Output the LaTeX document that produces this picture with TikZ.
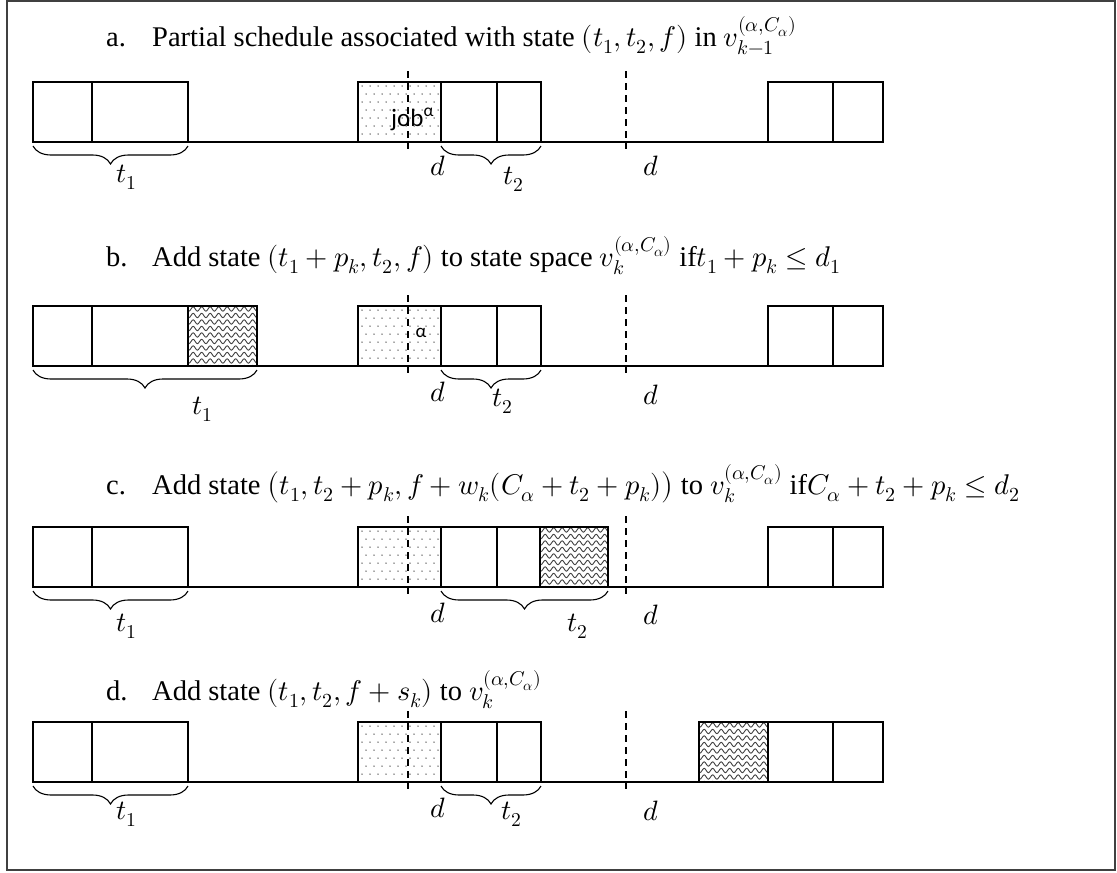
\documentclass[tikz,border=0pt]{standalone}
\usepackage{fontspec}
\usepackage{unicode-math}
\setmainfont{Liberation Serif}
\newfontfamily\boxfont{Carlito}
\usetikzlibrary{decorations.pathreplacing,decorations.pathmorphing}
\tikzset{
  jobbox/.style={draw, line width=1.8pt},
  baseln/.style={line width=1.6pt},
  deadline/.style={line width=1.4pt, dash pattern=on 7pt off 5pt},
  curly/.style={decorate, decoration={brace, mirror, amplitude=18pt, raise=2pt}, line width=1.1pt},
  ttl/.style={anchor=base west, inner sep=0pt, font=\fontsize{28.5}{32}\selectfont},
  mlab/.style={inner sep=0pt, font=\fontsize{28}{32}\selectfont},
  inbox/.style={inner sep=0pt, font=\boxfont\fontsize{25}{28}\selectfont},
  frame/.style={draw=black!75, line width=1.2pt},
}
\newcommand{\mydotpat}[2]{% x0 x1 (local y 0..60)
  \begin{scope}
    \clip (#1,0) rectangle (#2,60);
    \foreach \j in {0,...,7}{
      \pgfmathsetmacro{\off}{mod(\j,2)*4}
      \foreach \i in {0,...,11}{
        \fill[black!70] ({#1+4+\off+8*\i},{4+8*\j}) circle (0.75pt);
      }
    }
  \end{scope}
}
\newcommand{\mywavypat}[2]{%
  \begin{scope}
    \clip (#1,0) rectangle (#2,60);
    \foreach \yy in {3,9.5,...,63}{
      \draw[black!75, line width=0.9pt, decorate, decoration={snake, amplitude=2.2pt, segment length=8.5pt}] ({#1-6},\yy) -- ({#2+6},\yy);
    }
  \end{scope}
}
\begin{document}
\begin{tikzpicture}[x=1pt, y=-1pt]
\useasboundingbox (0,0) rectangle (1117,873);
\draw[frame] (7,1) rectangle (1115,870);

% ---------- row a ----------
\node[ttl] (tla) at (106,46) {a.};
\node[ttl] (tta) at (152,46) {Partial schedule associated with state $(t_1, t_2, f)$ in $v_{k-1}^{(\alpha,C_\alpha)}$};
\begin{scope}[yshift=-82pt]
  \mydotpat{358}{441}
  \draw[baseln] (33,60) -- (883,60);
  \draw[jobbox] (33,0) rectangle (92,60);
  \draw[jobbox] (92,0) rectangle (188,60);
  \draw[jobbox] (358,0) rectangle (441,60);
  \draw[jobbox] (441,0) rectangle (497,60);
  \draw[jobbox] (497,0) rectangle (541,60);
  \draw[jobbox] (768,0) rectangle (833,60);
  \draw[jobbox] (833,0) rectangle (883,60);
  \draw[deadline] (408,-11) -- (408,67);
  \draw[deadline] (626,-11) -- (626,67);
  \node[inbox, anchor=base west] (ja) at (391,44) {job\textsuperscript{α}};
  \coordinate (a1l) at (33,62); \coordinate (a1r) at (188,62);
  \coordinate (a2l) at (441,62); \coordinate (a2r) at (541,62);
  \draw[curly] (a1l) -- (a1r);
  \draw[curly] (a2l) -- (a2r);
  \node[mlab] (at1) at (127,95) {$t_1$};
  \node[mlab] (at2) at (514,97) {$t_2$};
  \node[mlab] (ad1) at (438,84) {$d$};
  \node[mlab] (ad2) at (651,84) {$d$};
\end{scope}

% ---------- row b ----------
\node[ttl] (tlb) at (106,266) {b.};
\node[ttl] (ttb) at (152,266) {Add state $(t_1 + p_k, t_2, f)$ to state space $v_{k}^{(\alpha,C_\alpha)}$ if$t_1 + p_k \le d_1$};
\begin{scope}[yshift=-306pt]
  \mydotpat{358}{441}
  \mywavypat{188}{257}
  \draw[baseln] (33,60) -- (883,60);
  \draw[jobbox] (33,0) rectangle (92,60);
  \draw[jobbox] (92,0) rectangle (188,60);
  \draw[jobbox] (188,0) rectangle (257,60);
  \draw[jobbox] (358,0) rectangle (441,60);
  \draw[jobbox] (441,0) rectangle (497,60);
  \draw[jobbox] (497,0) rectangle (541,60);
  \draw[jobbox] (768,0) rectangle (833,60);
  \draw[jobbox] (833,0) rectangle (883,60);
  \draw[deadline] (408,-11) -- (408,67);
  \draw[deadline] (626,-11) -- (626,67);
  \node[inbox, font=\boxfont\fontsize{19}{22}\selectfont] (jb) at (421,27) {α};
  \coordinate (b1l) at (33,62); \coordinate (b1r) at (257,62);
  \coordinate (b2l) at (441,62); \coordinate (b2r) at (541,62);
  \draw[curly] (b1l) -- (b1r);
  \draw[curly] (b2l) -- (b2r);
  \node[mlab] (bt1) at (203,103) {$t_1$};
  \node[mlab] (bt2) at (503,95) {$t_2$};
  \node[mlab] (bd1) at (438,86) {$d$};
  \node[mlab] (bd2) at (651,89) {$d$};
\end{scope}

% ---------- row c ----------
\node[ttl] (tlc) at (106,494) {c.};
\node[ttl] (ttc) at (152,494) {Add state $\big(t_1, t_2 + p_k, f + w_k(C_\alpha + t_2 + p_k)\big)$ to $v_{k}^{(\alpha,C_\alpha)}$ if$C_\alpha + t_2 + p_k \le d_2$};
\begin{scope}[yshift=-527pt]
  \mydotpat{358}{441}
  \mywavypat{540}{608}
  \draw[baseln] (33,60) -- (883,60);
  \draw[jobbox] (33,0) rectangle (92,60);
  \draw[jobbox] (92,0) rectangle (188,60);
  \draw[jobbox] (358,0) rectangle (441,60);
  \draw[jobbox] (441,0) rectangle (497,60);
  \draw[jobbox] (497,0) rectangle (540,60);
  \draw[jobbox] (540,0) rectangle (608,60);
  \draw[jobbox] (768,0) rectangle (833,60);
  \draw[jobbox] (833,0) rectangle (883,60);
  \draw[deadline] (408,-11) -- (408,67);
  \draw[deadline] (626,-11) -- (626,67);
  \coordinate (c1l) at (33,62); \coordinate (c1r) at (188,62);
  \coordinate (c2l) at (441,62); \coordinate (c2r) at (608,62);
  \draw[curly] (c1l) -- (c1r);
  \draw[curly] (c2l) -- (c2r);
  \node[mlab] (ct1) at (127,99) {$t_1$};
  \node[mlab] (ct2) at (578,99) {$t_2$};
  \node[mlab] (cd1) at (438,86) {$d$};
  \node[mlab] (cd2) at (651,88) {$d$};
\end{scope}

% ---------- row d ----------
\node[ttl] (tld) at (106,700) {d.};
\node[ttl] (ttd) at (152,700) {Add state $(t_1, t_2, f + s_k)$ to $v_{k}^{(\alpha,C_\alpha)}$};
\begin{scope}[yshift=-722pt]
  \mydotpat{358}{441}
  \mywavypat{699}{768}
  \draw[baseln] (33,60) -- (883,60);
  \draw[jobbox] (33,0) rectangle (92,60);
  \draw[jobbox] (92,0) rectangle (188,60);
  \draw[jobbox] (358,0) rectangle (441,60);
  \draw[jobbox] (441,0) rectangle (497,60);
  \draw[jobbox] (497,0) rectangle (541,60);
  \draw[jobbox] (699,0) rectangle (768,60);
  \draw[jobbox] (768,0) rectangle (833,60);
  \draw[jobbox] (833,0) rectangle (883,60);
  \draw[deadline] (408,-11) -- (408,67);
  \draw[deadline] (626,-11) -- (626,67);
  \coordinate (d1l) at (33,62); \coordinate (d1r) at (188,62);
  \coordinate (d2l) at (441,62); \coordinate (d2r) at (541,62);
  \draw[curly] (d1l) -- (d1r);
  \draw[curly] (d2l) -- (d2r);
  \node[mlab] (dt1) at (127,92) {$t_1$};
  \node[mlab] (dt2) at (512,92) {$t_2$};
  \node[mlab] (dd1) at (438,86) {$d$};
  \node[mlab] (dd2) at (651,89) {$d$};
\end{scope}
\end{tikzpicture}
\end{document}
